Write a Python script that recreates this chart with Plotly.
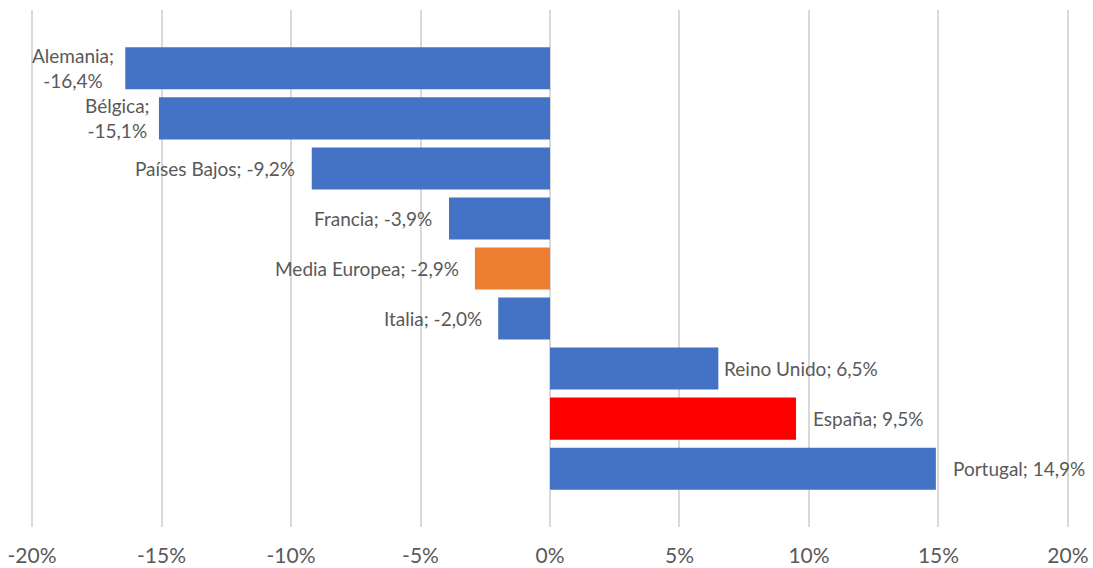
import plotly.graph_objects as go

# Variación por país (%)
paises = ["Alemania", "Bélgica", "Países Bajos", "Francia", "Media Europea",
          "Italia", "Reino Unido", "España", "Portugal"]
variacion = [-16.4, -15.1, -9.2, -3.9, -2.9, -2.0, 6.5, 9.5, 14.9]
colores = ["#4472C4", "#4472C4", "#4472C4", "#4472C4", "#ED7D31",
           "#4472C4", "#4472C4", "#FF0000", "#4472C4"]
ticks_x = [-20, -15, -10, -5, 0, 5, 10, 15, 20]
ticks_x_txt = ["-20%", "-15%", "-10%", "-5%", "0%", "5%", "10%", "15%", "20%"]
# etiquetas que se parten en dos líneas
partidas = {"Alemania", "Bélgica"}
# separación (px) entre el extremo de la barra y su etiqueta
separacion = [9, 7, 15, 15, 14, 14, 4, 15, 15]


def etiqueta(p, v):
    num = f"{v:.1f}".replace(".", ",") + "%"
    sep = "<br>" if p in partidas else " "
    return f"{p};{sep}{num}"


fuente = "Lato, 'Open Sans', sans-serif"

fig = go.Figure(go.Bar(
    x=variacion,
    y=list(range(len(paises))),
    orientation="h",
    marker=dict(color=colores, line=dict(width=0)),
    hoverinfo="skip",
))

# etiquetas de datos junto al extremo de cada barra
for i, (p, v) in enumerate(zip(paises, variacion)):
    neg = v < 0
    fig.add_annotation(
        x=v, y=i, xref="x", yref="y",
        text=etiqueta(p, v),
        showarrow=False,
        xanchor="right" if neg else "left",
        yanchor="middle",
        align="center",
        xshift=-separacion[i] if neg else separacion[i],
        font=dict(family=fuente, size=19, color="#595959"),
    )

fig.update_layout(
    width=1093, height=568,
    margin=dict(l=31, r=24, t=10, b=41, autoexpand=False),
    paper_bgcolor="white", plot_bgcolor="white",
    bargap=0.16,
    showlegend=False,
    font=dict(family=fuente, color="#595959"),
    xaxis=dict(
        range=[-20.04, 20.04],
        tickvals=ticks_x, ticktext=ticks_x_txt,
        showgrid=True, gridcolor="#D9D9D9", gridwidth=2,
        zeroline=False, showline=False,
        tickfont=dict(size=21, color="#595959"),
        ticks="", ticklen=0,
        ticklabelstandoff=14,
        automargin=False,
    ),
    yaxis=dict(
        range=[9.165, -1.165],
        showticklabels=False, showgrid=False, zeroline=False,
        showline=False, ticks="", automargin=False,
    ),
)

fig.write_html("out.html")
